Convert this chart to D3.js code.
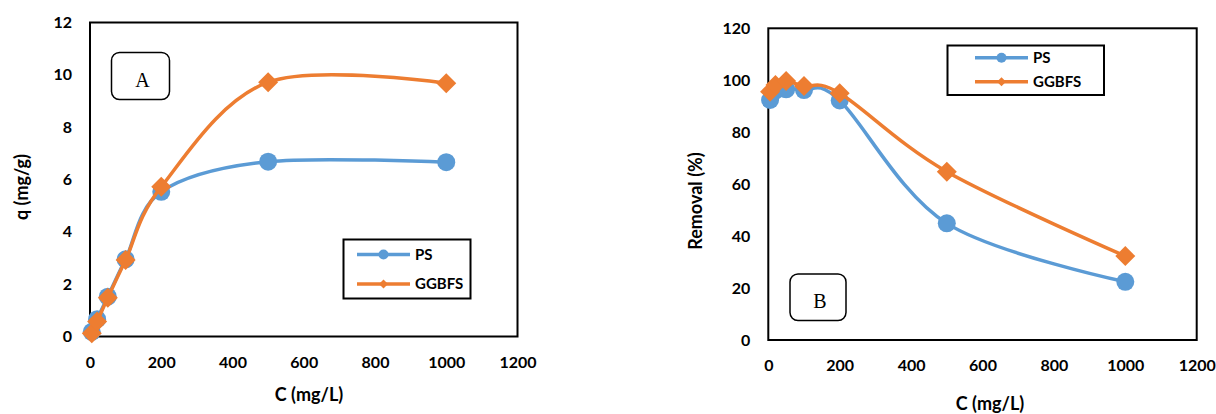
<!DOCTYPE html>
<html>
<head>
<meta charset="utf-8">
<script src="https://cdn.jsdelivr.net/npm/d3@7"></script>
<style>
  body { margin: 0; background: #fff; }
  text { font-family: Lato, "Open Sans", sans-serif; font-weight: bold; fill: #000; }
</style>
</head>
<body>
<div id="chart"></div>
<script>
// concentrations (mg/L)
var conc = [5, 20, 50, 100, 200, 500, 1000];
// panel A: q (mg/g)
var qPS = [0.18, 0.66, 1.52, 2.95, 5.53, 6.68, 6.66];
var qGGBFS = [0.12, 0.57, 1.48, 2.92, 5.72, 9.72, 9.68];
// panel B: removal (%)
var remPS = [92.4, 96.0, 96.5, 96.2, 92.2, 44.9, 22.4];
var remGGBFS = [95.6, 98.2, 99.7, 97.8, 95.0, 64.8, 32.3];

var xTicks = [0, 200, 400, 600, 800, 1000, 1200];
var qTicks = [0, 2, 4, 6, 8, 10, 12];
var remTicks = [0, 20, 40, 60, 80, 100, 120];
var seriesNames = ["PS", "GGBFS"];
var colors = ["#5B9BD5", "#ED7D31"];

var svg = d3.select('#chart').append('svg')
  .attr('width', 1216)
  .attr('height', 414)
  .style('display', 'block')
svg.append('rect').attr('width', 1216).attr('height', 414).attr('fill', '#fff')

function panel(cfg){
  var g = svg.append('g')
  var x = d3.scaleLinear().domain([0, 1200]).range([cfg.left, cfg.right])
  var y = d3.scaleLinear().domain(cfg.yDomain).range([cfg.bottom, cfg.top])

  g.append('g')
    .attr('transform', 'translate(0,' + cfg.bottom + ')')
    .call(d3.axisBottom(x).tickValues(xTicks).tickFormat(d3.format('d')).tickSize(0).tickPadding(20))
    .call(function(a){ a.select('.domain').remove() })
    .selectAll('text').style('font-size', '16px').attr('font-family', null)

  g.append('g')
    .attr('transform', 'translate(' + cfg.left + ',0)')
    .call(d3.axisLeft(y).tickValues(cfg.yTicks).tickFormat(d3.format('d')).tickSize(0).tickPadding(18))
    .call(function(a){ a.select('.domain').remove() })
    .selectAll('text').style('font-size', '16px').attr('font-family', null)

  // plot frame
  g.append('rect')
    .attr('x', cfg.left).attr('y', cfg.top)
    .attr('width', cfg.right - cfg.left).attr('height', cfg.bottom - cfg.top)
    .attr('fill', 'none').attr('stroke', '#000').attr('stroke-width', 2)

  var line = d3.line()
    .x(function(d){ return x(d[0]) })
    .y(function(d){ return y(d[1]) })
    .curve(d3.curveCardinal.tension(0))

  cfg.series.forEach(function(vals, s){
    var pts = conc.map(function(c, i){ return [c, vals[i]] })
    g.append('path')
      .attr('d', line(pts))
      .attr('fill', 'none')
      .attr('stroke', colors[s])
      .attr('stroke-width', 3.5)
    if (s === 0) {
      g.selectAll('circle.m' + cfg.id)
        .data(pts).enter().append('circle')
        .attr('cx', function(d){ return x(d[0]) })
        .attr('cy', function(d){ return y(d[1]) })
        .attr('r', 9)
        .attr('fill', colors[s])
    } else {
      g.selectAll('path.m' + cfg.id)
        .data(pts).enter().append('path')
        .attr('d', 'M0,-10L10,0L0,10L-10,0Z')
        .attr('transform', function(d){ return 'translate(' + x(d[0]) + ',' + y(d[1]) + ')' })
        .attr('fill', colors[s])
    }
  })

  // legend
  var lg = cfg.legend
  g.append('rect')
    .attr('x', lg.x).attr('y', lg.y).attr('width', lg.w).attr('height', lg.h)
    .attr('fill', '#fff').attr('stroke', '#000').attr('stroke-width', 2)
  seriesNames.forEach(function(name, s){
    var ly = lg.row0 + s * lg.step
    g.append('line')
      .attr('x1', lg.lineX0).attr('x2', lg.lineX1)
      .attr('y1', ly).attr('y2', ly)
      .attr('stroke', colors[s]).attr('stroke-width', 3.5)
    var mx = (lg.lineX0 + lg.lineX1) / 2
    if (s === 0) {
      g.append('circle').attr('cx', mx).attr('cy', ly).attr('r', 5).attr('fill', colors[s])
    } else {
      g.append('path').attr('d', 'M0,-4.5L4.5,0L0,4.5L-4.5,0Z')
        .attr('transform', 'translate(' + mx + ',' + ly + ')').attr('fill', colors[s])
    }
    g.append('text')
      .attr('x', lg.lineX1 + 5).attr('y', ly).attr('dy', '0.36em')
      .style('font-size', '15px')
      .text(name)
  })

  // panel label box
  var lb = cfg.label
  g.append('rect')
    .attr('x', lb.x).attr('y', lb.y).attr('width', lb.w).attr('height', lb.h)
    .attr('rx', 8).attr('ry', 8)
    .attr('fill', '#fff').attr('stroke', '#000').attr('stroke-width', 1.5)
  g.append('text')
    .attr('x', lb.x + lb.w / 2 + 2).attr('y', lb.y + lb.h / 2 + 4).attr('dy', '0.35em')
    .attr('text-anchor', 'middle')
    .style('font-family', '"Liberation Serif", "Times New Roman", serif')
    .style('font-weight', 'normal')
    .style('font-size', '20px')
    .text(lb.text)

  // axis titles
  g.append('text')
    .attr('x', cfg.xTitle[0]).attr('y', cfg.xTitle[1]).attr('dy', '0.35em')
    .attr('text-anchor', 'middle')
    .style('font-size', '18px')
    .text('C (mg/L)')
  g.append('text')
    .attr('transform', 'translate(' + cfg.yTitle[0] + ',' + cfg.yTitle[1] + ') rotate(-90)')
    .attr('dy', '0.35em')
    .attr('text-anchor', 'middle')
    .style('font-size', '18px')
    .text(cfg.yLabel)
}

panel({
  id: 'A', left: 90, right: 517.5, top: 22.5, bottom: 336.5,
  yDomain: [0, 12], yTicks: qTicks, series: [qPS, qGGBFS],
  legend: { x: 343.5, y: 239.5, w: 127, h: 59, row0: 254.5, step: 29.5, lineX0: 357, lineX1: 410 },
  label: { x: 111.5, y: 52.5, w: 58, h: 47, text: 'A' },
  xTitle: [309, 395], yTitle: [22, 187], yLabel: 'q (mg/g)'
})

panel({
  id: 'B', left: 768.3, right: 1196.7, top: 28.3, bottom: 340,
  yDomain: [0, 120], yTicks: remTicks, series: [remPS, remGGBFS],
  legend: { x: 947.5, y: 45.5, w: 156.5, h: 49.5, row0: 57.7, step: 24, lineX0: 975, lineX1: 1028 },
  label: { x: 790, y: 274, w: 56, h: 46.5, text: 'B' },
  xTitle: [990, 404], yTitle: [696, 201], yLabel: 'Removal (%)'
})
</script>
</body>
</html>
